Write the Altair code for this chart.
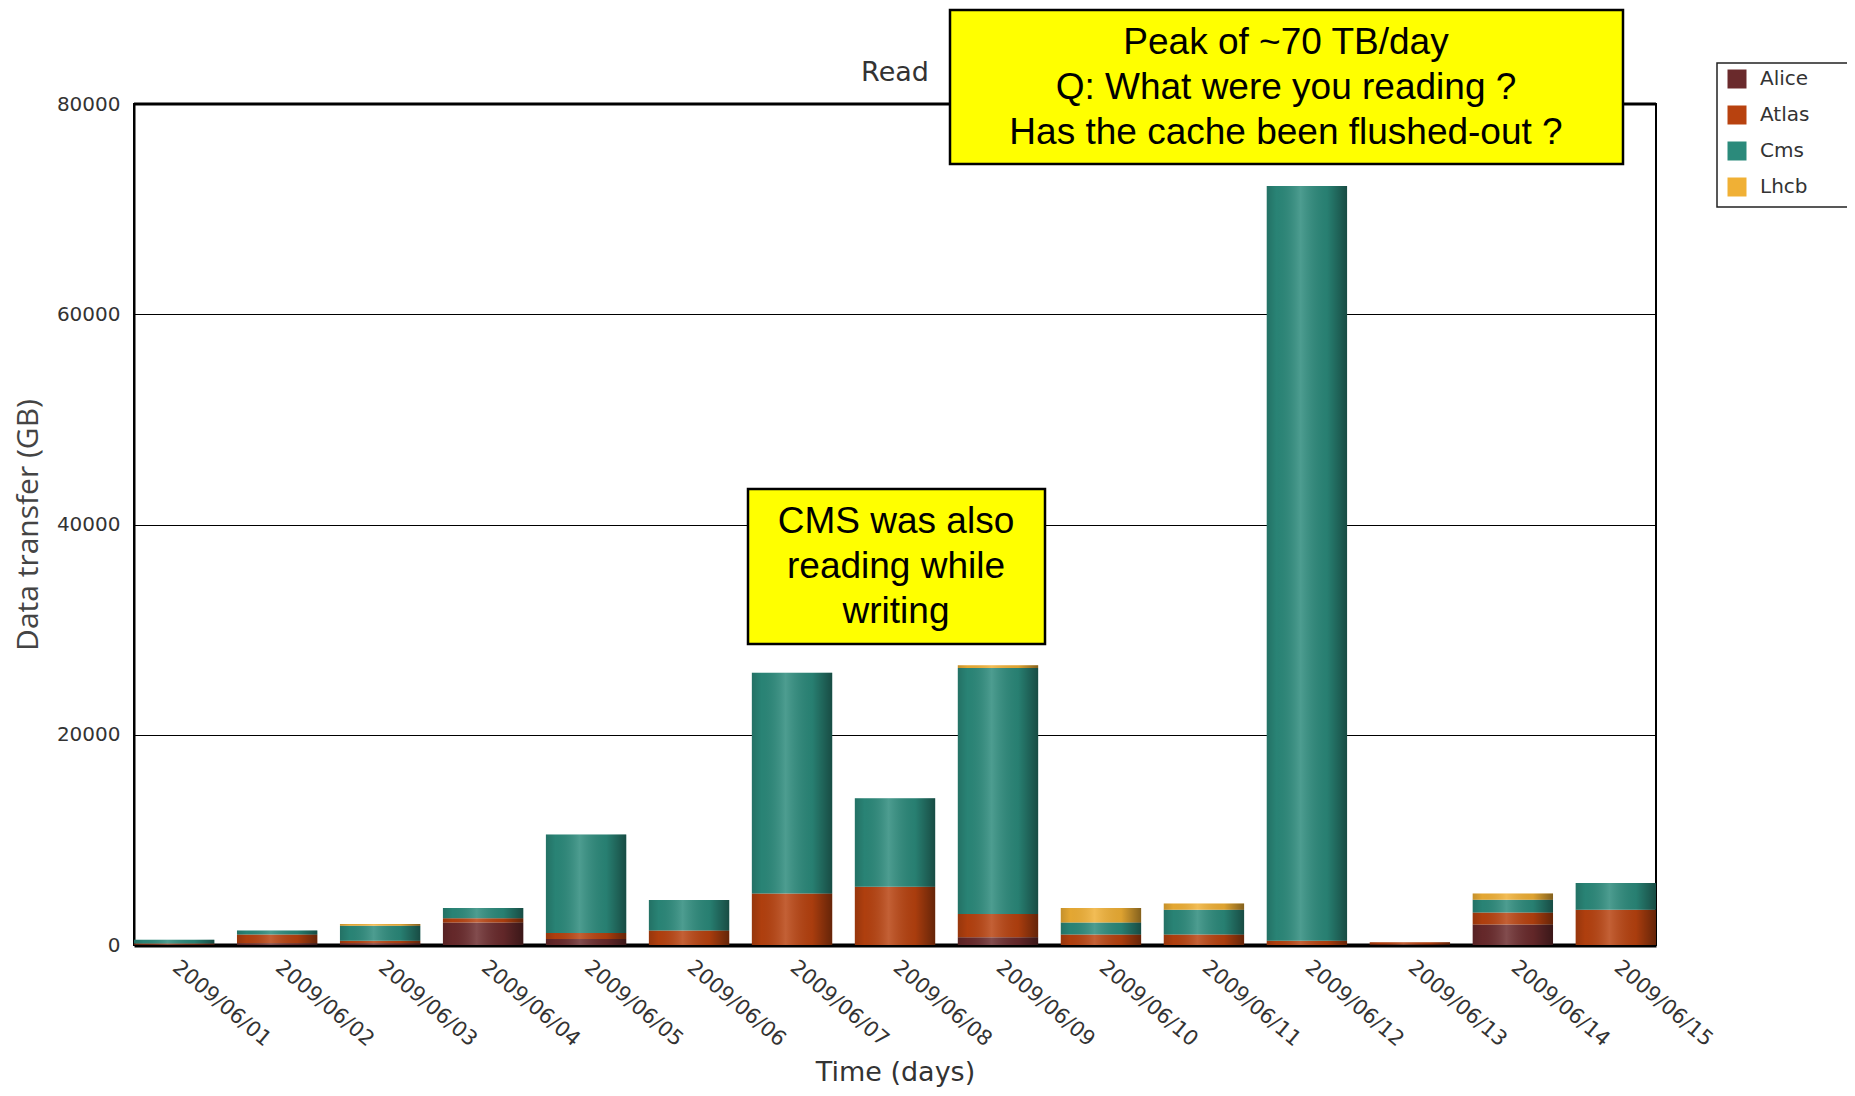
import altair as alt
import pandas as pd

dates = ["2009/06/01", "2009/06/02", "2009/06/03", "2009/06/04", "2009/06/05",
         "2009/06/06", "2009/06/07", "2009/06/08", "2009/06/09", "2009/06/10",
         "2009/06/11", "2009/06/12", "2009/06/13", "2009/06/14", "2009/06/15"]
series = ["Alice", "Atlas", "Cms", "Lhcb"]
colors = ["#6a2a2c", "#b8420f", "#2b8a7b", "#f0b035"]

alice = [50, 170, 170, 2150, 560, 0, 0, 0, 730, 0, 0, 0, 50, 1950, 0]
atlas = [100, 820, 230, 390, 590, 1380, 4900, 5550, 2230, 990, 990, 400, 200, 1150, 3350]
cms = [350, 400, 1420, 990, 9350, 2900, 21000, 8400, 23400, 1150, 2370, 71800, 0, 1210, 2550]
lhcb = [0, 0, 170, 0, 0, 0, 0, 0, 250, 1380, 590, 0, 0, 590, 0]

y_ticks = [0, 20000, 40000, 60000, 80000]

chart_title = "Read"
note_peak = ["Peak of ~70 TB/day", "Q: What were you reading ?", "Has the cache been flushed-out ?"]
note_cms = ["CMS was also", "reading while", "writing"]

rows = []
for si, (name, vals) in enumerate(zip(series, [alice, atlas, cms, lhcb])):
    for d, v in zip(dates, vals):
        rows.append({"date": d, "series": name, "value": v, "order": si})
df = pd.DataFrame(rows)

W, H = 1522, 841
YTITLE = "Data transfer (GB)"

x_enc = alt.X(
    "date:N", sort=dates, title="Time (days)",
    scale=alt.Scale(paddingInner=0.22, paddingOuter=0),
    axis=alt.Axis(
        labelAngle=40, labelAlign="left", labelBaseline="top", labelPadding=11,
        labelOffset=8,
        ticks=False, labelFont="DejaVu Sans", labelFontSize=21, labelColor="#333",
        domainColor="#000", domainWidth=4, labelOverlap=False,
        titleFont="DejaVu Sans", titleFontSize=27, titleFontWeight="normal",
        titleColor="#333", titleY=127, titleBaseline="middle",
    ),
)
y_scale = alt.Scale(domain=[0, 80000], nice=False)

bars = alt.Chart(df).mark_bar().encode(
    x=x_enc,
    y=alt.Y(
        "value:Q", stack="zero", scale=y_scale, title=YTITLE,
        axis=alt.Axis(
            values=y_ticks, format="d", ticks=False, labelPadding=14,
            domainColor="#000", domainWidth=2, gridColor="#000", gridWidth=1,
            labelFont="DejaVu Sans", labelFontSize=20, labelColor="#333",
            titleFont="Open Sans", titleFontSize=30, titleFontWeight="normal",
            titleColor="#444", titleX=-106, titleBaseline="middle",
        ),
    ),
    color=alt.Color(
        "series:N", scale=alt.Scale(domain=series, range=colors),
        legend=alt.Legend(
            title=None, orient="none", legendX=1593, legendY=-35,
            symbolType="square", symbolSize=361, symbolStrokeWidth=0,
            symbolOpacity=1, labelFont="DejaVu Sans", labelFontSize=20,
            labelColor="#333", labelOffset=13, rowPadding=16, padding=0,
        ),
    ),
    order=alt.Order("order:Q", sort="ascending"),
)

shade_grad = alt.Gradient(
    gradient="linear", x1=0, x2=1, y1=0, y2=0,
    stops=[
        alt.GradientStop(offset=0, color="rgba(0,0,0,0.18)"),
        alt.GradientStop(offset=0.12, color="rgba(0,0,0,0.05)"),
        alt.GradientStop(offset=0.42, color="rgba(255,255,255,0.16)"),
        alt.GradientStop(offset=0.75, color="rgba(0,0,0,0.08)"),
        alt.GradientStop(offset=1, color="rgba(0,0,0,0.45)"),
    ],
)
shade = alt.Chart(df).transform_aggregate(
    total="sum(value)", groupby=["date"]
).mark_bar(color=shade_grad).encode(
    x=alt.X("date:N", sort=dates, title="Time (days)"),
    y=alt.Y("total:Q", scale=y_scale, title=YTITLE),
)

one = alt.Data(values=[{}])

top_rule = alt.Chart(one).mark_rule(color="#000", strokeWidth=3).encode(
    y=alt.datum(80000)
)

title_text = alt.Chart(one).mark_text(
    text=chart_title, font="DejaVu Sans", fontSize=27, color="#333",
    align="center", baseline="middle",
).encode(x=alt.value(W / 2), y=alt.value(-31))

legend_box = alt.Chart(one).mark_rect(fill="white", stroke="#222", strokeWidth=1.5).encode(
    x=alt.value(1583), x2=alt.value(1716), y=alt.value(-41), y2=alt.value(103)
)

box_style = dict(fill="#ffff00", stroke="#000", strokeWidth=2.5)
box1 = alt.Chart(one).mark_rect(**box_style).encode(
    x=alt.value(816), x2=alt.value(1489), y=alt.value(-94), y2=alt.value(60)
)
box2 = alt.Chart(one).mark_rect(**box_style).encode(
    x=alt.value(614), x2=alt.value(911), y=alt.value(385), y2=alt.value(540)
)
txt_style = dict(font="Liberation Sans", fontSize=37, lineHeight=45,
                 align="center", baseline="middle", color="#000")
text1 = alt.Chart(one).mark_text(text=note_peak, **txt_style).encode(
    x=alt.value(1152), y=alt.value(-61)
)
text2 = alt.Chart(one).mark_text(text=note_cms, **txt_style).encode(
    x=alt.value(762), y=alt.value(418)
)

chart = alt.layer(
    bars, shade, top_rule, title_text, legend_box, box1, box2, text1, text2
).properties(
    width=W, height=H,
    padding={"left": 126, "top": 96, "right": 191, "bottom": 143},
    autosize=alt.AutoSizeParams(type="none"),
).configure_view(stroke="#000", strokeWidth=2)

chart.save("out.html", embed_options={"renderer": "svg", "actions": False})
